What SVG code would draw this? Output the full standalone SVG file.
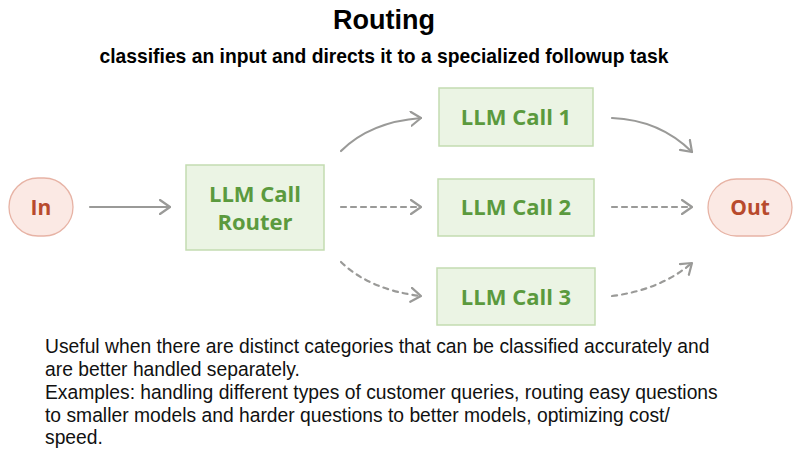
<svg xmlns="http://www.w3.org/2000/svg" width="800" height="455" viewBox="0 0 800 455">
<style>
.title{font-family:"Liberation Sans",Arial,sans-serif;font-weight:bold;font-size:27px;fill:#000;text-anchor:middle}
.sub{font-family:"Liberation Sans",Arial,sans-serif;font-weight:bold;font-size:19.3px;fill:#000;text-anchor:middle}
.body{font-family:"Liberation Sans",Arial,sans-serif;font-size:19.3px;fill:#111}
.box{fill:#ebf4e4;stroke:#c3dcb1;stroke-width:1.5}
.btxt{font-family:"Open Sans","Noto Sans",sans-serif;font-weight:bold;font-size:22px;fill:#5b9a3e;text-anchor:middle}
.term{fill:#fbe9e4;stroke:#e7b3a5;stroke-width:1.3}
.ttxt{font-family:"Open Sans","Noto Sans",sans-serif;font-weight:bold;font-size:21px;fill:#b84a2d;text-anchor:middle}
.c{fill:none;stroke:#9a9a98;stroke-width:2.2;stroke-linecap:round}
.d{stroke-dasharray:5 5}
</style>
<defs>
<marker id="ah" viewBox="0 0 12 16" refX="11" refY="8" markerWidth="12" markerHeight="16" markerUnits="userSpaceOnUse" orient="auto">
<path d="M1,1 L11,8 L1,15" fill="none" stroke="#9a9a98" stroke-width="2.2" stroke-linecap="round" stroke-linejoin="round"/>
</marker>
</defs>
<text class="title" x="384" y="29">Routing</text>
<text class="sub" x="384" y="63">classifies an input and directs it to a specialized followup task</text>
<g id="connectors">
<path class="c" d="M90,207 L170,207" marker-end="url(#ah)"/>
<path class="c" d="M341,151 Q370,122 421,118" marker-end="url(#ah)"/>
<path class="c d" d="M341,207 L421,207" marker-end="url(#ah)"/>
<path class="c d" d="M341,262 Q370,290 421,296" marker-end="url(#ah)"/>
<path class="c" d="M612,118 Q660,120 692,152" marker-end="url(#ah)"/>
<path class="c d" d="M612,207 L692,207" marker-end="url(#ah)"/>
<path class="c d" d="M612,296 Q660,290 692,263" marker-end="url(#ah)"/>
</g>
<g id="in">
<rect class="term" x="9" y="178" width="64" height="58" rx="29"/>
<text class="ttxt" x="41" y="215">In</text>
</g>
<g id="router">
<rect class="box" x="186" y="165" width="138" height="85"/>
<text class="btxt" x="255" y="202">LLM Call</text>
<text class="btxt" x="255" y="230">Router</text>
</g>
<g id="call1">
<rect class="box" x="439" y="88" width="154" height="58"/>
<text class="btxt" x="516" y="125">LLM Call 1</text>
</g>
<g id="call2">
<rect class="box" x="438" y="179" width="156" height="57"/>
<text class="btxt" x="516" y="215">LLM Call 2</text>
</g>
<g id="call3">
<rect class="box" x="437" y="268" width="158" height="57"/>
<text class="btxt" x="516" y="305">LLM Call 3</text>
</g>
<g id="out">
<rect class="term" x="708" y="179" width="84" height="57" rx="28.5"/>
<text class="ttxt" x="750" y="215">Out</text>
</g>
<text class="body" x="45" y="353">Useful when there are distinct categories that can be classified accurately and</text>
<text class="body" x="45" y="376">are better handled separately.</text>
<text class="body" x="45" y="399">Examples: handling different types of customer queries, routing easy questions</text>
<text class="body" x="45" y="422">to smaller models and harder questions to better models, optimizing cost/</text>
<text class="body" x="45" y="444">speed.</text>
</svg>
